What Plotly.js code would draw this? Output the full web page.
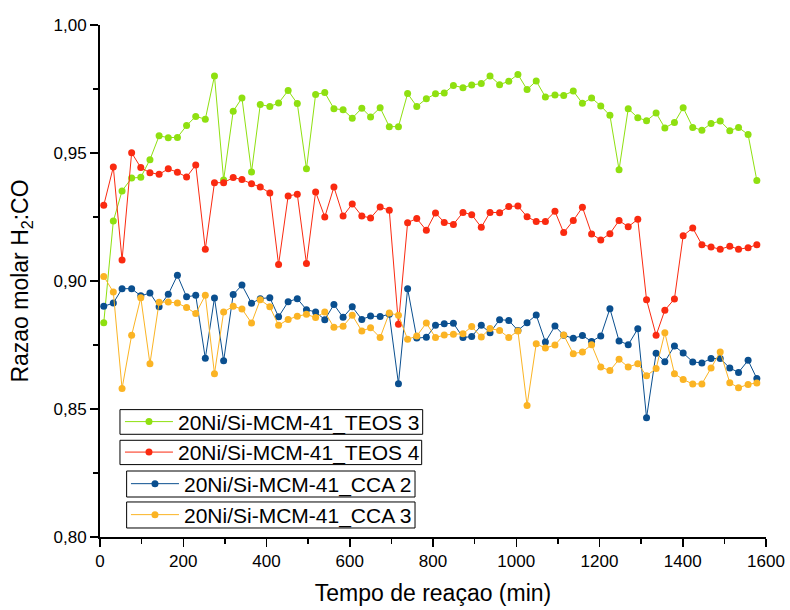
<!DOCTYPE html>
<html>
<head>
<meta charset="utf-8">
<script src="https://cdn.plot.ly/plotly-3.0.1.min.js"></script>
<style>html,body{margin:0;padding:0;background:#fff;}#chart{width:790px;height:610px;}</style>
</head>
<body>
<div id="chart"></div>
<script>
const tempo = [9,32,53,76,98,120,142,164,186,208,230,253,275,297,320,341,364,385,408,429,452,474,496,518,540,562,584,606,629,650,673,695,717,739,761,784,806,827,849,872,893,916,937,960,982,1004,1026,1048,1070,1093,1114,1137,1159,1181,1203,1225,1247,1269,1292,1313,1336,1357,1380,1401,1424,1446,1468,1490,1513,1534,1557,1578];

const teos3 = [0.8837,0.9234,0.9352,0.9402,0.9405,0.9474,0.9567,0.9560,0.9561,0.9607,0.9643,0.9632,0.9801,0.9395,0.9663,0.9715,0.9426,0.9689,0.9682,0.9695,0.9744,0.9693,0.9438,0.9729,0.9736,0.9673,0.9669,0.9636,0.9675,0.9641,0.9677,0.9603,0.9603,0.9732,0.9682,0.9712,0.9731,0.9734,0.9764,0.9755,0.9766,0.9771,0.9801,0.9767,0.9780,0.9807,0.9748,0.9781,0.9719,0.9727,0.9725,0.9742,0.9694,0.9715,0.9684,0.9647,0.9435,0.9673,0.9638,0.9626,0.9656,0.9598,0.9619,0.9677,0.9600,0.9589,0.9615,0.9625,0.9587,0.9600,0.9572,0.9393];

const teos4 = [0.9296,0.9445,0.9082,0.9501,0.9443,0.9423,0.9417,0.9438,0.9425,0.9406,0.9453,0.9124,0.9384,0.9384,0.9404,0.9396,0.9380,0.9367,0.9344,0.9064,0.9332,0.9339,0.9068,0.9348,0.9250,0.9367,0.9254,0.9301,0.9254,0.9246,0.9289,0.9276,0.8831,0.9228,0.9244,0.9198,0.9266,0.9229,0.9221,0.9268,0.9259,0.9210,0.9268,0.9267,0.9291,0.9293,0.9251,0.9232,0.9232,0.9272,0.9189,0.9236,0.9288,0.9184,0.9160,0.9185,0.9236,0.9212,0.9241,0.8927,0.8788,0.8886,0.8930,0.9177,0.9207,0.9142,0.9133,0.9124,0.9136,0.9124,0.9130,0.9142];

const cca2 = [0.8901,0.8914,0.8970,0.8970,0.8942,0.8953,0.8899,0.8948,0.9022,0.8938,0.8944,0.8698,0.8934,0.8688,0.8947,0.8984,0.8913,0.8931,0.8935,0.8860,0.8919,0.8931,0.8888,0.8879,0.8849,0.8908,0.8858,0.8899,0.8850,0.8863,0.8861,0.8870,0.8599,0.8970,0.8777,0.8780,0.8827,0.8833,0.8835,0.8779,0.8783,0.8827,0.8798,0.8849,0.8846,0.8807,0.8837,0.8867,0.8762,0.8824,0.8788,0.8776,0.8787,0.8764,0.8785,0.8892,0.8766,0.8751,0.8813,0.8466,0.8718,0.8685,0.8746,0.8719,0.8684,0.8680,0.8697,0.8697,0.8660,0.8643,0.8690,0.8619];

const cca3 = [0.9018,0.8957,0.8580,0.8788,0.8935,0.8677,0.8917,0.8918,0.8914,0.8896,0.8873,0.8944,0.8638,0.8879,0.8901,0.8891,0.8836,0.8927,0.8899,0.8827,0.8850,0.8862,0.8870,0.8857,0.8879,0.8819,0.8823,0.8866,0.8805,0.8817,0.8779,0.8875,0.8866,0.8772,0.8785,0.8836,0.8779,0.8789,0.8792,0.8794,0.8822,0.8781,0.8814,0.8807,0.8779,0.8805,0.8514,0.8755,0.8738,0.8750,0.8789,0.8716,0.8723,0.8751,0.8664,0.8650,0.8694,0.8664,0.8677,0.8630,0.8658,0.8798,0.8638,0.8615,0.8598,0.8598,0.8660,0.8723,0.8603,0.8583,0.8596,0.8602];

const seriesNames = ['20Ni/Si-MCM-41_TEOS 3','20Ni/Si-MCM-41_TEOS 4','20Ni/Si-MCM-41_CCA 2','20Ni/Si-MCM-41_CCA 3'];
const seriesData = [teos3, teos4, cca2, cca3];
const seriesColors = ['#8fe010','#fa2a10','#0a4f8f','#fbb424'];
const legendIds = ['legend','legend2','legend3','legend4'];

const traces = seriesData.map((ys, i) => ({
  type: 'scatter',
  mode: 'lines+markers',
  x: tempo,
  y: ys,
  name: seriesNames[i],
  legend: legendIds[i],
  line: {color: seriesColors[i], width: 1},
  marker: {color: seriesColors[i], size: 7},
  cliponaxis: false
}));

// legend frames (paper coordinates)
const frames = [
  [0.030, 0.4845, 0.2006, 0.2488],
  [0.030, 0.4830, 0.1414, 0.1889],
  [0.040, 0.4730, 0.0781, 0.1289],
  [0.040, 0.4730, 0.0176, 0.0684]
];

function leg(x, f) {
  return {
    x: x, y: (f[2] + f[3]) / 2, xanchor: 'left', yanchor: 'middle',
    bgcolor: 'rgba(0,0,0,0)', borderwidth: 0,
    font: {family: 'Liberation Sans, Arial, sans-serif', size: 21, color: '#000'},
    itemwidth: 48, tracegroupgap: 0
  };
}

const layout = {
  width: 790, height: 610,
  margin: {l: 100, r: 24, t: 25, b: 73},
  paper_bgcolor: '#fff', plot_bgcolor: '#fff',
  separators: ',.',
  font: {family: 'Liberation Sans, Arial, sans-serif', color: '#000'},
  showlegend: true,
  xaxis: {
    range: [0, 1600], dtick: 200, tick0: 0,
    showline: true, linecolor: '#000', linewidth: 2,
    ticks: 'outside', ticklen: 8, tickwidth: 1.5, tickcolor: '#000',
    minor: {ticks: 'outside', dtick: 100, ticklen: 5, tickwidth: 1.5, tickcolor: '#000'},
    showgrid: false, zeroline: false,
    tickfont: {size: 17},
    title: {text: 'Tempo de reaçao (min)', font: {size: 23}, standoff: 14}
  },
  yaxis: {
    range: [0.80, 1.00], dtick: 0.05, tick0: 0.8, tickformat: '.2f',
    showline: true, linecolor: '#000', linewidth: 2,
    ticks: 'outside', ticklen: 8, tickwidth: 1.5, tickcolor: '#000',
    minor: {ticks: 'outside', dtick: 0.025, ticklen: 5, tickwidth: 1.5, tickcolor: '#000'},
    showgrid: false, zeroline: false,
    tickfont: {size: 17},
    title: {text: 'Razao molar H<sub>2</sub>:CO', font: {size: 23}, standoff: 18}
  },
  shapes: frames.map(f => ({
    type: 'rect', xref: 'paper', yref: 'paper',
    x0: f[0], x1: f[1], y0: f[2], y1: f[3],
    line: {color: '#000', width: 1}, fillcolor: '#fff', layer: 'above'
  })),
  legend: leg(0.030, frames[0]),
  legend2: leg(0.030, frames[1]),
  legend3: leg(0.039, frames[2]),
  legend4: leg(0.039, frames[3])
};

Plotly.newPlot('chart', traces, layout, {staticPlot: true, displayModeBar: false});
</script>
</body>
</html>
